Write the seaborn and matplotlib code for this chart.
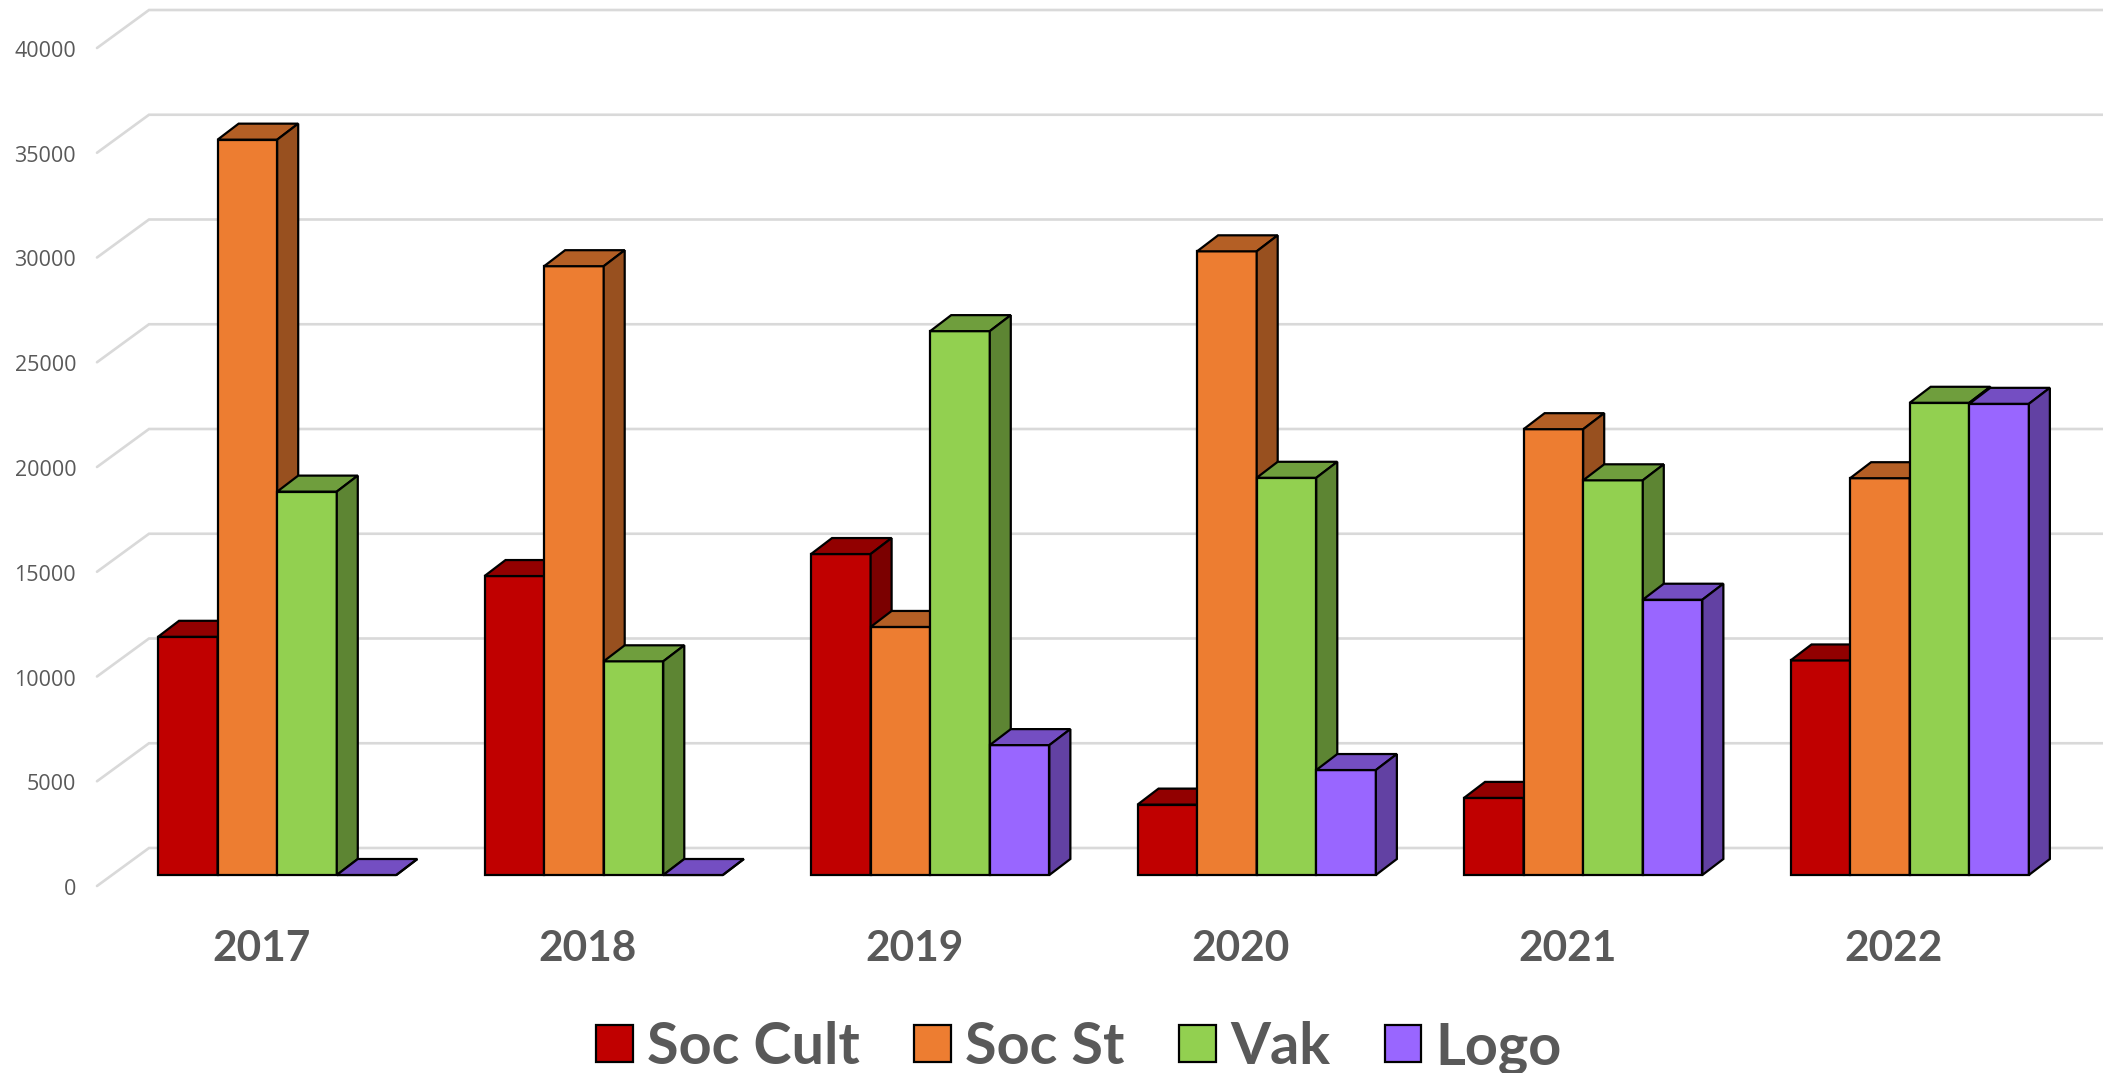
import numpy as np
import pandas as pd
import matplotlib
matplotlib.use('Agg')
import matplotlib.pyplot as plt
from matplotlib.colors import to_rgb
from matplotlib.patches import Polygon
from matplotlib.transforms import ScaledTranslation
import seaborn as sns

years = ['2017', '2018', '2019', '2020', '2021', '2022']
soc_cult = [11370, 14270, 15320, 3360, 3680, 10240]
soc_st = [35100, 29060, 11840, 29770, 21280, 18940]
vak = [18300, 10200, 25960, 18960, 18840, 22540]
logo = [0, 0, 6200, 5010, 13140, 22490]
series_names = ['Soc Cult', 'Soc St', 'Vak', 'Logo']
series_colors = ['#C00000', '#ED7D31', '#92D050', '#9966FF']
y_ticks = list(range(0, 40001, 5000))

# Layout of the picture, in pixels
W, H = 2103, 1073
AX_LEFT, AX_BOTTOM = 97, 886
BASE_Y = 875  # front of the bars, value 0
FIRST_CENTER = 277.2
PERIOD = 326.5
PX_PER_UNIT = 104.75 / 5000
DEPTH_X, DEPTH_Y = 21, 16  # bar depth
WALL_X, WALL_Y = 52, 38  # floor line, front end to back wall
LABEL_SHIFT_Y = AX_BOTTOM - BASE_Y

GREY = '#595959'
GRID = '#D9D9D9'
TOP_SHADE = 0.76
SIDE_SHADE = 0.64
EDGE_W = 1.6

sns.set_theme(style='white')
plt.rcParams['font.family'] = ['Open Sans', 'DejaVu Sans']

df = pd.DataFrame({
    'year': years * 4,
    'series': np.repeat(series_names, len(years)),
    'value': soc_cult + soc_st + vak + logo,
})

fig = plt.figure(figsize=(W / 100, H / 100), dpi=100)
ax = fig.add_axes([AX_LEFT / W, (H - AX_BOTTOM) / H, 1 - AX_LEFT / W, AX_BOTTOM / H])

sns.barplot(data=df, x='year', y='value', hue='series', palette=series_colors,
            width=0.73, gap=0, saturation=1, errorbar=None,
            edgecolor='black', linewidth=EDGE_W, ax=ax)

ax.set_xlim((AX_LEFT - FIRST_CENTER) / PERIOD, (W - FIRST_CENTER) / PERIOD)
ax.set_ylim(-LABEL_SHIFT_Y / PX_PER_UNIT, BASE_Y / PX_PER_UNIT)

dx = DEPTH_X / PERIOD
dy = DEPTH_Y / PX_PER_UNIT

# Top and side faces, stacked left to right like the 3D chart
for i, container in enumerate(ax.containers):
    base = np.array(to_rgb(series_colors[i]))
    for bar in container:
        bar.set_zorder(3 + i)
        x0, x1 = bar.get_x(), bar.get_x() + bar.get_width()
        top = bar.get_height()
        ax.add_patch(Polygon([(x0, top), (x1, top), (x1 + dx, top + dy), (x0 + dx, top + dy)],
                             facecolor=base * TOP_SHADE, edgecolor='black', linewidth=EDGE_W, zorder=3 + i))
        ax.add_patch(Polygon([(x1, 0), (x1 + dx, dy), (x1 + dx, top + dy), (x1, top)],
                             facecolor=base * SIDE_SHADE, edgecolor='black', linewidth=EDGE_W, zorder=3 + i))

# Back wall gridlines and the slanted floor part
x_left = ax.get_xlim()[0]
x_wall = x_left + WALL_X / PERIOD
wall_lift = (BASE_Y - (AX_BOTTOM - WALL_Y)) / PX_PER_UNIT
for v in y_ticks:
    ax.plot([x_left, x_wall, ax.get_xlim()[1]],
            [v - LABEL_SHIFT_Y / PX_PER_UNIT, v + wall_lift, v + wall_lift],
            color=GRID, linewidth=1.9, zorder=1, clip_on=False, solid_joinstyle='miter')

sns.despine(ax=ax, left=True, bottom=True, right=True, top=True)
ax.set_xlabel('')
ax.set_ylabel('')
ax.set_yticks(y_ticks)
ax.set_yticklabels([str(v) for v in y_ticks], fontsize=15.5, color=GREY)
ax.tick_params(axis='y', length=0, pad=15)
ax.tick_params(axis='x', length=0, pad=32)
for label in ax.get_yticklabels():
    label.set_transform(label.get_transform() + ScaledTranslation(0, -(LABEL_SHIFT_Y + 1) / 100, fig.dpi_scale_trans))
ax.set_xticks(range(len(years)))
ax.set_xticklabels(years, fontsize=30.5, fontweight='bold', family='Lato', color=GREY)
for label in ax.get_xticklabels():
    label.set_transform(label.get_transform() + ScaledTranslation(-16 / 100, 0, fig.dpi_scale_trans))

handles, labels = ax.get_legend_handles_labels()
ax.legend(handles, labels, loc='center', bbox_to_anchor=(1079 / W, (H - 1048) / H),
          bbox_transform=fig.transFigure, ncol=4, frameon=False,
          prop={'family': 'Lato', 'weight': 'bold', 'size': 41.5}, labelcolor=GREY,
          handlelength=0.63, handleheight=0.61, handletextpad=0.25, columnspacing=0.95,
          borderpad=0, borderaxespad=0)

fig.savefig('out.png', dpi=100)
